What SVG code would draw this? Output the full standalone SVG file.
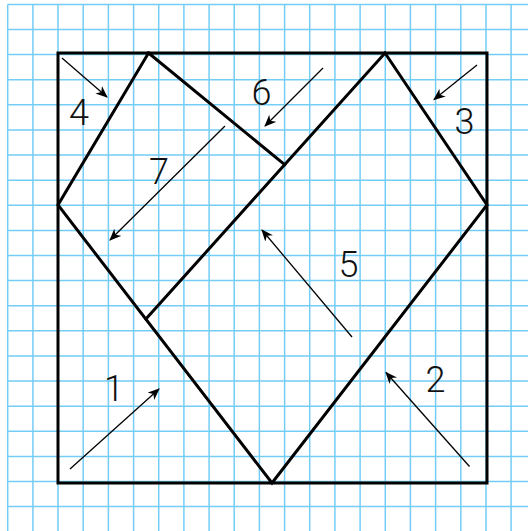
<svg xmlns="http://www.w3.org/2000/svg" width="528" height="531" viewBox="0 0 528 531">
<style>
.grid{stroke:#74CDF5;stroke-width:1.5;fill:none}
.cut{stroke:#000;stroke-width:3;fill:none;stroke-linejoin:miter;stroke-linecap:square}
.arr{stroke:#000;stroke-width:1.3;fill:none;marker-end:url(#ah)}
.lbl{font-family:Roboto,"Liberation Sans",sans-serif;font-weight:300;font-size:36px;fill:#111;text-anchor:middle}
</style>
<defs>
<marker id="ah" markerUnits="userSpaceOnUse" markerWidth="14" markerHeight="12" refX="11" refY="5" orient="auto">
<path d="M0,0 L12,5 L0,10 L3.5,5 Z" fill="#000"/>
</marker>
</defs>
<rect width="528" height="531" fill="#fff"/>
<g id="grid">
<path class="grid" d="M7.7,4.4V531M32.9,4.4V531M58,4.4V531M83.2,4.4V531M108.4,4.4V531M133.6,4.4V531M158.7,4.4V531M183.9,4.4V531M209.1,4.4V531M234.2,4.4V531M259.4,4.4V531M284.6,4.4V531M309.7,4.4V531M334.9,4.4V531M360.1,4.4V531M385.3,4.4V531M410.4,4.4V531M435.6,4.4V531M460.8,4.4V531M486,4.4V531M511.1,4.4V531"/>
<path class="grid" d="M7.7,4.4H528M7.7,29.5H528M7.7,54.6H528M7.7,79.7H528M7.7,104.8H528M7.7,129.9H528M7.7,155.1H528M7.7,180.2H528M7.7,205.3H528M7.7,230.4H528M7.7,255.5H528M7.7,280.6H528M7.7,305.7H528M7.7,330.8H528M7.7,355.9H528M7.7,381H528M7.7,406.2H528M7.7,431.3H528M7.7,456.4H528M7.7,481.5H528M7.7,506.6H528"/>
</g>
<g id="block">
<rect class="cut" x="58" y="53" width="429" height="430"/>
<path class="cut" d="M148.5,53 L58,205 L272,483 L487,205 L385,53"/>
<path class="cut" d="M148.5,53 L284.7,164.7"/>
<path class="cut" d="M385,53 L146,319"/>
</g>
<g id="connectors">
<line class="arr" x1="62" y1="58" x2="107" y2="97"/>
<line class="arr" x1="477" y1="65" x2="434" y2="99.5"/>
<line class="arr" x1="70" y1="469" x2="159" y2="389"/>
<line class="arr" x1="469.5" y1="466.5" x2="386" y2="372.5"/>
<line class="arr" x1="352" y1="337" x2="262" y2="230"/>
<line class="arr" x1="323" y1="68" x2="265" y2="126"/>
<line class="arr" x1="225" y1="126" x2="110" y2="240"/>
</g>
<g id="piece-1"><text class="lbl" x="114" y="401">1</text></g>
<g id="piece-2"><text class="lbl" x="435.5" y="392">2</text></g>
<g id="piece-3"><text class="lbl" x="464.5" y="134">3</text></g>
<g id="piece-4"><text class="lbl" x="79" y="125">4</text></g>
<g id="piece-5"><text class="lbl" x="348.5" y="276.5">5</text></g>
<g id="piece-6"><text class="lbl" x="261.5" y="105">6</text></g>
<g id="piece-7"><text class="lbl" x="159" y="184">7</text></g>
</svg>
